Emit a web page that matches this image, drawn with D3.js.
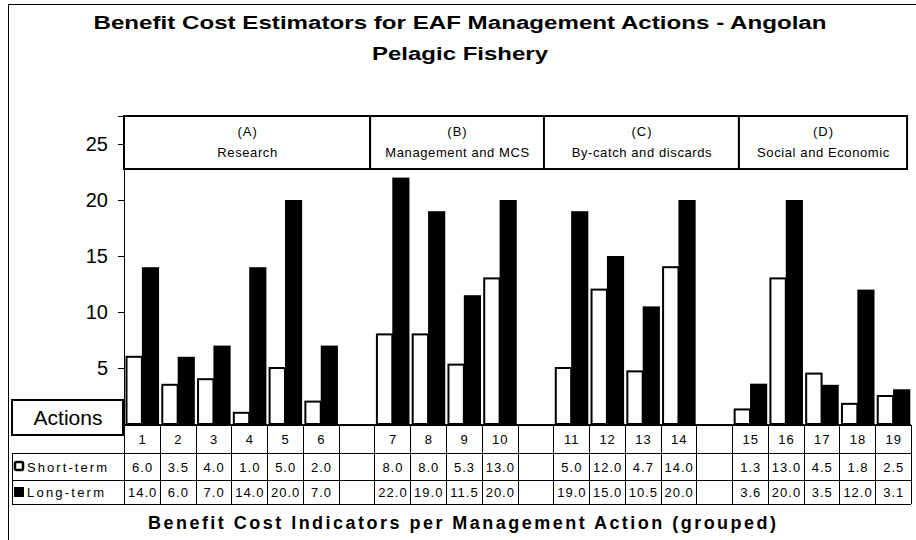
<!DOCTYPE html>
<html>
<head>
<meta charset="utf-8">
<script src="https://cdn.jsdelivr.net/npm/d3@7"></script>
<style>
  body { margin: 0; background: #fff; }
  svg text { font-family: "Liberation Sans", Arial, sans-serif; fill: #000; }
</style>
</head>
<body>
<div id="chart"></div>
<script>
const actions = ["1","2","3","4","5","6","7","8","9","10","11","12","13","14","15","16","17","18","19"];
const shortTerm = [6.0, 3.5, 4.0, 1.0, 5.0, 2.0, 8.0, 8.0, 5.3, 13.0, 5.0, 12.0, 4.7, 14.0, 1.3, 13.0, 4.5, 1.8, 2.5];
const longTerm = [14.0, 6.0, 7.0, 14.0, 20.0, 7.0, 22.0, 19.0, 11.5, 20.0, 19.0, 15.0, 10.5, 20.0, 3.6, 20.0, 3.5, 12.0, 3.1];
const groupCodes = ["(A)", "(B)", "(C)", "(D)"];
const groupNames = ["Research", "Management and MCS", "By-catch and discards", "Social and Economic"];
const groupSizes = [6, 4, 4, 5];
const yTicks = [5, 10, 15, 20, 25];
const seriesNames = ["Short-term", "Long-term"];

const width = 916, height = 540;
const margin = {t: 116, b: 116, l: 124, r: 5};

// build the table columns: actions with an empty column between groups
let columns = [];
let k = 0;
groupSizes.forEach((n, g) => {
    for (let i = 0; i < n; i++) {
        columns.push({key: actions[k], short: shortTerm[k], long: longTerm[k]});
        k++;
    }
    if (g < groupSizes.length - 1) columns.push({key: "gap" + g, short: null, long: null});
});

const svg = d3.select("#chart")
    .append("svg")
    .attr("width", width)
    .attr("height", height);

// chart border
svg.append("rect")
    .attr("x", 8.5).attr("y", 4.5)
    .attr("width", width + 10).attr("height", height + 10)
    .attr("fill", "none").attr("stroke", "#000").attr("stroke-width", 1);

const xScale = d3.scaleBand()
    .domain(columns.map(d => d.key))
    .range([margin.l, 911])
    .padding(0);
const colUnit = d3.scaleLinear().domain([0, columns.length]).range([margin.l, 911]);

const yScale = d3.scaleLinear()
    .domain([0, 27.5])
    .range([424, margin.t]);

//Title
svg.append("text")
    .attr("x", 460).attr("y", 29)
    .attr("text-anchor", "middle")
    .style("font-size", "18px").style("font-weight", "bold")
    .attr("textLength", 733).attr("lengthAdjust", "spacingAndGlyphs")
    .text("Benefit Cost Estimators for EAF Management Actions - Angolan");
svg.append("text")
    .attr("x", 460).attr("y", 60)
    .attr("text-anchor", "middle")
    .style("font-size", "18px").style("font-weight", "bold")
    .attr("textLength", 176).attr("lengthAdjust", "spacingAndGlyphs")
    .text("Pelagic Fishery");

// Y axis
const yAxis = d3.axisLeft(yScale)
    .tickValues(yTicks)
    .tickSize(6)
    .tickPadding(10);
const yG = svg.append("g")
    .attr("transform", `translate(${margin.l}, 0)`)
    .call(yAxis);
yG.select(".domain").attr("stroke", "#000");
yG.selectAll(".tick line").attr("stroke", "#000");
yG.selectAll(".tick text")
    .style("font-size", "20px")
    .style("font-family", "Liberation Sans, Arial, sans-serif");

// Bars
const bw = xScale.bandwidth();
const cols = columns.filter(d => d.short !== null);
svg.selectAll(".short")
    .data(cols)
    .join("rect")
    .attr("class", "short")
    .attr("x", d => xScale(d.key) + bw * 0.07)
    .attr("y", d => yScale(d.short))
    .attr("width", bw * 0.43)
    .attr("height", d => yScale(0) - yScale(d.short))
    .attr("fill", "#fff")
    .attr("stroke", "#000")
    .attr("stroke-width", 2);
svg.selectAll(".long")
    .data(cols)
    .join("rect")
    .attr("class", "long")
    .attr("x", d => xScale(d.key) + bw * 0.5)
    .attr("y", d => yScale(d.long))
    .attr("width", bw * 0.48)
    .attr("height", d => yScale(0) - yScale(d.long))
    .attr("fill", "#000");

// Group boxes
const groupEdges = [0, 6.88, 11.74, 17.19, 21.89];
groupCodes.forEach((c, i) => {
    const x0 = colUnit(groupEdges[i]), x1 = colUnit(groupEdges[i + 1]);
    svg.append("rect")
        .attr("x", x0).attr("y", margin.t)
        .attr("width", x1 - x0).attr("height", 53)
        .attr("fill", "#fff").attr("stroke", "#000").attr("stroke-width", 2);
    svg.append("text")
        .attr("x", (x0 + x1) / 2 + 0.5).attr("y", 136)
        .attr("text-anchor", "middle")
        .style("font-size", "13px").style("letter-spacing", "1px")
        .text(c);
    svg.append("text")
        .attr("x", (x0 + x1) / 2 + 0.5).attr("y", 157)
        .attr("text-anchor", "middle")
        .style("font-size", "13px").style("letter-spacing", "0.6px")
        .text(groupNames[i]);
});

// Data table
const rowY = [425, 453, 480, 504];
const table = svg.append("g");
table.append("line")
    .attr("x1", margin.l - 1).attr("x2", 911).attr("y1", rowY[0]).attr("y2", rowY[0])
    .attr("stroke", "#000").attr("stroke-width", 2);
[1, 2, 3].forEach(r => {
    table.append("line")
        .attr("x1", 12).attr("x2", 911).attr("y1", rowY[r] + 0.5).attr("y2", rowY[r] + 0.5)
        .attr("stroke", "#000").attr("stroke-width", 1);
});
table.append("line")
    .attr("x1", 12.5).attr("x2", 12.5).attr("y1", rowY[1]).attr("y2", rowY[3])
    .attr("stroke", "#000");
d3.range(columns.length + 1).forEach(i => {
    const x = Math.round(colUnit(i)) + 0.5;
    table.append("line")
        .attr("x1", x).attr("x2", x).attr("y1", rowY[0]).attr("y2", rowY[3])
        .attr("stroke", "#000");
});

const cellText = (key, txt, y) => {
    table.append("text")
        .attr("x", xScale(key) + bw / 2 + 0.7)
        .attr("y", y)
        .attr("text-anchor", "middle")
        .style("font-size", "13px")
        .style("letter-spacing", "1px")
        .text(txt);
};
cols.forEach(d => {
    cellText(d.key, d.key, 444);
    cellText(d.key, d3.format(".1f")(d.short), 472);
    cellText(d.key, d3.format(".1f")(d.long), 497);
});

// Legend keys in the table
svg.append("rect")
    .attr("x", 15).attr("y", 462).attr("width", 8).attr("height", 8)
    .attr("rx", 1.5)
    .attr("fill", "#fff").attr("stroke", "#000").attr("stroke-width", 2.5);
svg.append("rect")
    .attr("x", 14).attr("y", 487).attr("width", 10).attr("height", 10)
    .attr("fill", "#000");
svg.append("text")
    .attr("x", 27).attr("y", 472)
    .style("font-size", "13px")
    .attr("textLength", 80).attr("lengthAdjust", "spacing")
    .text(seriesNames[0]);
svg.append("text")
    .attr("x", 27).attr("y", 497)
    .style("font-size", "13px")
    .attr("textLength", 77).attr("lengthAdjust", "spacing")
    .text(seriesNames[1]);

// Actions box
svg.append("rect")
    .attr("x", 12).attr("y", 400).attr("width", 111).attr("height", 35)
    .attr("fill", "#fff").attr("stroke", "#000").attr("stroke-width", 2);
svg.append("text")
    .attr("x", 68).attr("y", 425)
    .attr("text-anchor", "middle")
    .style("font-size", "21px")
    .text("Actions");

// X axis title
svg.append("text")
    .attr("x", 462).attr("y", 529)
    .attr("text-anchor", "middle")
    .style("font-size", "18px").style("font-weight", "bold")
    .attr("textLength", 628).attr("lengthAdjust", "spacing")
    .text("Benefit Cost Indicators per Management Action (grouped)");
</script>
</body>
</html>
